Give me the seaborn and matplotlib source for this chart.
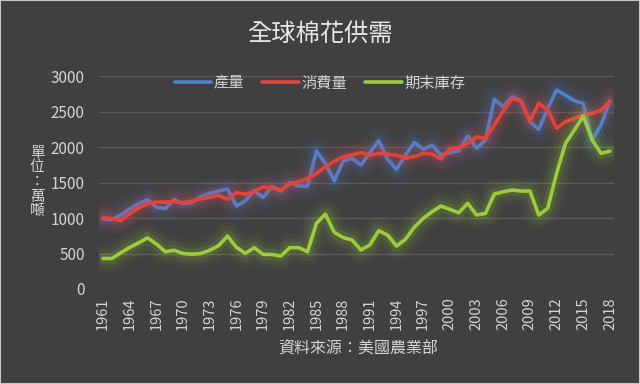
import pandas as pd
import seaborn as sns
import matplotlib.pyplot as plt
import matplotlib.patheffects as pe
from matplotlib.patches import Rectangle

# data (萬噸)
years = list(range(1961, 2019))
production = [990, 980, 1040, 1130, 1200, 1260, 1150, 1135, 1260, 1200,
              1220, 1300, 1350, 1380, 1410, 1170, 1240, 1390, 1290, 1440,
              1380, 1500, 1450, 1450, 1940, 1770, 1525, 1800, 1840, 1746,
              1919, 2088, 1826, 1685, 1880, 2065, 1967, 2027, 1887, 1920,
              1948, 2154, 1981, 2098, 2671, 2567, 2708, 2651, 2356, 2249,
              2544, 2802, 2732, 2651, 2615, 2098, 2309, 2651]
consumption = [1010, 990, 965, 1060, 1140, 1200, 1225, 1225, 1230, 1215,
               1240, 1270, 1290, 1320, 1265, 1360, 1335, 1370, 1440, 1420,
               1395, 1475, 1510, 1555, 1630, 1720, 1800, 1860, 1890, 1920,
               1885, 1910, 1900, 1885, 1840, 1865, 1910, 1900, 1830, 1980,
               1995, 2050, 2145, 2120, 2310, 2510, 2685, 2650, 2370, 2615,
               2520, 2265, 2355, 2405, 2450, 2475, 2520, 2640]
stocks = [430, 430, 510, 585, 650, 720, 635, 525, 545, 500,
          490, 500, 545, 610, 746, 587, 502, 582, 489, 485,
          465, 582, 582, 525, 925, 1056, 800, 725, 690, 549,
          620, 821, 760, 605, 700, 869, 995, 1088, 1169, 1122,
          1074, 1206, 1042, 1065, 1337, 1370, 1394, 1380, 1380, 1042,
          1136, 1629, 2051, 2239, 2436, 2098, 1910, 1943]
series_names = ["產量", "消費量", "期末庫存"]
colors = ["#4f81d2", "#e5433a", "#9bcc3c"]
BG = "#404040"
TXT = "#d4d4d4"

sns.set_style("dark")
plt.rcParams["font.family"] = ["Noto Sans CJK TC", "DejaVu Sans"]

df = pd.DataFrame({"年份": years, "產量": production,
                   "消費量": consumption, "期末庫存": stocks})
long_df = df.melt(id_vars="年份", var_name="項目", value_name="萬噸")

fig = plt.figure(figsize=(6.4, 3.84), dpi=100, facecolor=BG)
ax = fig.add_axes([0.154, 0.2474, 0.806, 0.5546])
ax.set_facecolor(BG)

sns.lineplot(data=long_df, x="年份", y="萬噸", hue="項目",
             hue_order=series_names, palette=dict(zip(series_names, colors)),
             linewidth=2.6, ax=ax)

ax.set_xlim(1960.5, 2018.5)
ax.set_ylim(0, 3000)
ax.set_xticks(years[::3])
ax.set_xticklabels([str(y) for y in years[::3]], rotation=90)
ax.set_yticks(range(0, 3001, 500))
ax.tick_params(axis="both", colors=TXT, length=0)
ax.tick_params(axis="y", labelsize=11, pad=10)
ax.tick_params(axis="x", labelsize=10.5, pad=6)
ax.grid(axis="y", color="#5c5c5c", linewidth=1)
ax.grid(axis="x", visible=False)
ax.set_axisbelow(True)
for s in ax.spines.values():
    s.set_visible(False)
ax.set_xlabel("")
ax.set_ylabel("")

# legend on top, centred on the figure
handles, labels = ax.get_legend_handles_labels()
ax.legend(handles, labels, loc="center", bbox_to_anchor=(0.5, 0.784),
          bbox_transform=fig.transFigure, ncol=3, frameon=False,
          fontsize=11, handlelength=2.4, handletextpad=0.15,
          columnspacing=1.2, labelcolor=TXT)

# soft glow around the lines
for line, c in zip(ax.lines[:3], colors):
    line.set_path_effects([
        pe.Stroke(linewidth=20, foreground=c, alpha=0.05),
        pe.Stroke(linewidth=14, foreground=c, alpha=0.07),
        pe.Stroke(linewidth=8, foreground=c, alpha=0.12),
        pe.Normal()])

fig.text(0.5, 0.911, "全球棉花供需", ha="center", va="center",
         fontsize=17.5, color="#e6e6e6")
fig.text(358 / 640, 1 - 348 / 384, "資料來源：美國農業部", ha="center",
         va="center", fontsize=11.5, color=TXT)
fig.text(37 / 640, 1 - 182 / 384, "單\n位\n：\n萬\n噸", ha="center",
         va="center", fontsize=10.5, linespacing=1.05, color=TXT)

fig.patches.append(Rectangle((0, 0), 1, 1, transform=fig.transFigure,
                             fill=False, edgecolor="#c8c8c8", linewidth=1.5))

fig.savefig("out.png", dpi=100, facecolor=BG)
